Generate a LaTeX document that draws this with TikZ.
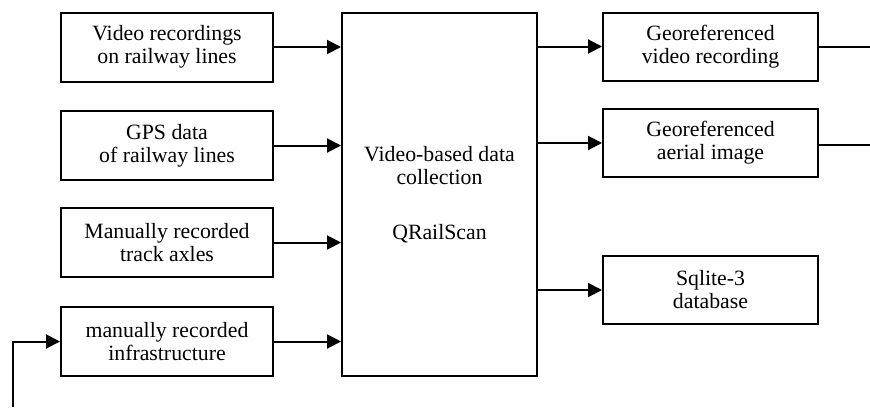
\documentclass[tikz,border=0pt]{standalone}
\usepackage{fontspec}
\setmainfont{Liberation Serif}
\usetikzlibrary{arrows.meta}

\begin{document}
\begin{tikzpicture}[x=0.5pt, y=-0.5pt,
  every node/.style={font=\fontsize{10.9}{11.5}\selectfont},
  inbox/.style={draw, line width=1pt, align=center, minimum width=106pt, minimum height=34.5pt, inner sep=0pt},
  outbox/.style={draw, line width=1pt, align=center, minimum width=107.5pt, minimum height=34pt, inner sep=0pt},
  arr/.style={line width=1pt, -{Triangle[length=7pt,width=7pt]}}]
\useasboundingbox (0,0) rectangle (870,407);
% inputs
\node[inbox] (vid) at (167,47) {Video recordings\\on railway lines};
\node[inbox] (gps) at (167,145.5) {GPS data\\of railway lines};
\node[inbox] (axles) at (167,242.5) {Manually recorded\\track axles};
\node[inbox] (infra) at (167,341.5) {manually recorded\\infrastructure};
% tool
\node[draw, line width=1pt, align=center, minimum width=97.5pt, minimum height=181.5pt, inner sep=0pt] (qrs) at (439.5,194.5)
  {Video-based data\\collection\\[16pt]QRailScan};
% outputs
\node[outbox] (georefvid) at (710.5,46.5) {Georeferenced\\video recording};
\node[outbox] (georefaerial) at (710.5,143) {Georeferenced\\aerial image};
\node[outbox] (sqlite) at (710.5,290) {Sqlite-3\\database};
\coordinate (vidout) at (870,46.5);
\coordinate (aerialout) at (870,145);
\coordinate (feed) at (13,407);

\foreach \n in {vid,gps,axles,infra}
  \draw[arr] (\n.east) -- (\n.east -| qrs.west);
\foreach \n in {georefvid,georefaerial,sqlite}
  \draw[arr] (\n.west -| qrs.east) -- (\n.west);
\draw[line width=1pt] (georefvid.east) -- (vidout);
\draw[line width=1pt] (georefaerial.east |- aerialout) -- (aerialout);
\draw[arr] (feed) |- (infra.west);
\end{tikzpicture}
\end{document}
